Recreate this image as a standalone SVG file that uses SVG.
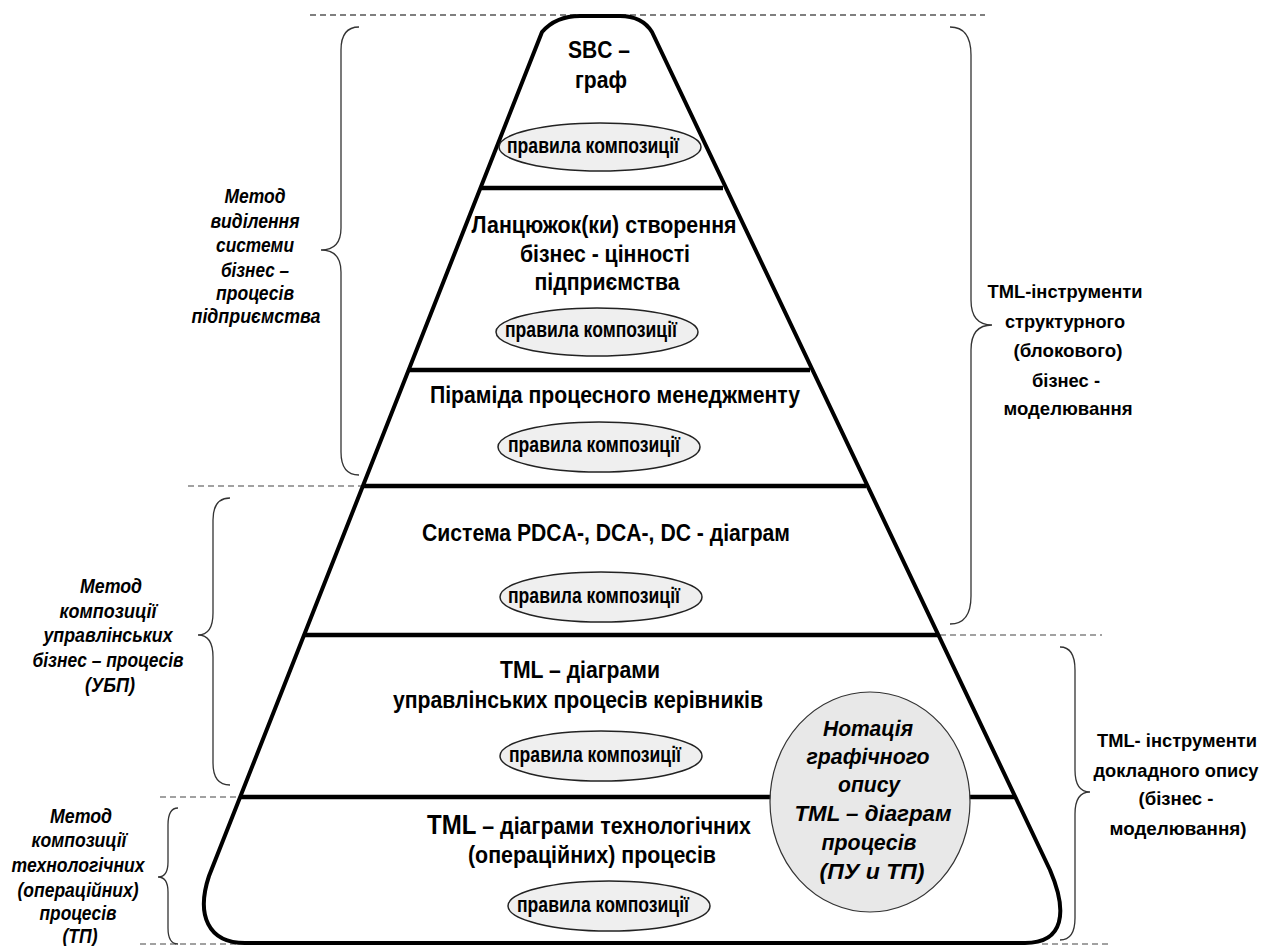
<svg xmlns="http://www.w3.org/2000/svg" width="1264" height="946" viewBox="0 0 1264 946">
<style>
.bg{fill:#fff}
.outline{fill:#fff;stroke:#000;stroke-width:4;stroke-linejoin:round}
.tier{stroke:#000;stroke-width:4.5;fill:none}
.rule{fill:#efefef;stroke:#222;stroke-width:1.5}
.rt{font-family:"Liberation Sans",Arial,sans-serif;font-weight:bold;font-size:22px;fill:#000;text-anchor:middle}
.tt{font-family:"Liberation Sans",Arial,sans-serif;font-weight:bold;font-size:24px;fill:#000;text-anchor:middle}
.lt{font-family:"Liberation Sans",Arial,sans-serif;font-weight:bold;font-style:italic;font-size:21px;fill:#000;text-anchor:middle}
.ct{font-family:"Liberation Sans",Arial,sans-serif;font-weight:bold;font-style:italic;font-size:22px;fill:#000;text-anchor:middle}
.gt{font-family:"Liberation Sans",Arial,sans-serif;font-weight:bold;font-size:19px;fill:#000;text-anchor:middle}
.brace{fill:none;stroke:#333;stroke-width:1.3}
.dash{fill:none;stroke:#444;stroke-width:1.1;stroke-dasharray:6 4}
.dashk{fill:none;stroke:#000;stroke-width:1.1;stroke-dasharray:6 4}
</style>
<rect class="bg" x="0" y="0" width="1264" height="946"/>

<g id="guides">
<path class="dashk" d="M310,15 H985"/>
<path class="dash" d="M188,486 H363"/>
<path class="dash" d="M940,635 H1102"/>
<path class="dash" d="M160,797 H241"/>
<path class="dash" d="M140,944 H240"/>
<path class="dash" d="M1042,944 H1110"/>
</g>

<g id="pyramid">
<path class="outline" d="M542,32 Q556,16 580,16 L620,16 Q642,16 652,32 L1050,870 C1068,912 1064,943 1025,943 L245,943 C208,943 196,915 209,876 Z"/>
<path class="tier" d="M480,188 H723"/>
<path class="tier" d="M408,370 H810"/>
<path class="tier" d="M363,486 H866"/>
<path class="tier" d="M304,635 H938"/>
<path class="tier" d="M241,797 H772 M968,797 H1015"/>
</g>

<g id="tier-sbc">
<text class="tt" x="599" y="58" textLength="62" lengthAdjust="spacingAndGlyphs">SBC –</text>
<text class="tt" x="601" y="88" textLength="52" lengthAdjust="spacingAndGlyphs">граф</text>
<ellipse class="rule" cx="600" cy="147" rx="101" ry="24"/>
<text class="rt" x="593" y="153" textLength="172" lengthAdjust="spacingAndGlyphs">правила композиції</text>
</g>

<g id="tier-chain">
<text class="tt" x="604" y="233" textLength="265" lengthAdjust="spacingAndGlyphs">Ланцюжок(ки) створення</text>
<text class="tt" x="605" y="262" textLength="170" lengthAdjust="spacingAndGlyphs">бізнес - цінності</text>
<text class="tt" x="607" y="290" textLength="145" lengthAdjust="spacingAndGlyphs">підприємства</text>
<ellipse class="rule" cx="597" cy="332" rx="101" ry="24"/>
<text class="rt" x="591" y="337" textLength="172" lengthAdjust="spacingAndGlyphs">правила композиції</text>
</g>

<g id="tier-pyramid">
<text class="tt" x="615" y="403" textLength="370" lengthAdjust="spacingAndGlyphs">Піраміда процесного менеджменту</text>
<ellipse class="rule" cx="599" cy="447" rx="101" ry="25"/>
<text class="rt" x="594" y="452" textLength="172" lengthAdjust="spacingAndGlyphs">правила композиції</text>
</g>

<g id="tier-pdca">
<text class="tt" x="606" y="541" textLength="368" lengthAdjust="spacingAndGlyphs">Система PDCA-, DCA-, DC - діаграм</text>
<ellipse class="rule" cx="601" cy="597" rx="101" ry="25"/>
<text class="rt" x="594" y="603" textLength="172" lengthAdjust="spacingAndGlyphs">правила композиції</text>
</g>

<g id="tier-management">
<text class="tt" x="580" y="678" textLength="160" lengthAdjust="spacingAndGlyphs">TML – діаграми</text>
<text class="tt" x="578" y="708" textLength="370" lengthAdjust="spacingAndGlyphs">управлінських процесів керівників</text>
<ellipse class="rule" cx="601" cy="756" rx="101" ry="25"/>
<text class="rt" x="595" y="762" textLength="172" lengthAdjust="spacingAndGlyphs">правила композиції</text>
</g>

<g id="tier-technology">
<text class="tt" x="589" y="834" textLength="324" lengthAdjust="spacingAndGlyphs"><tspan font-size="27">TML</tspan> – діаграми технологічних</text>
<text class="tt" x="592" y="863" textLength="248" lengthAdjust="spacingAndGlyphs">(операційних) процесів</text>
<ellipse class="rule" cx="609" cy="906" rx="101" ry="25"/>
<text class="rt" x="603" y="912" textLength="172" lengthAdjust="spacingAndGlyphs">правила композиції</text>
</g>

<g id="notation">
<ellipse class="rule" cx="870" cy="802" rx="100" ry="110" style="fill:#e8e8e8;stroke:#333;stroke-width:1.2"/>
<text class="ct" x="868" y="736" textLength="90" lengthAdjust="spacingAndGlyphs">Нотація</text>
<text class="ct" x="868" y="764" textLength="123" lengthAdjust="spacingAndGlyphs">графічного</text>
<text class="ct" x="869" y="792" textLength="62" lengthAdjust="spacingAndGlyphs">опису</text>
<text class="ct" x="873" y="821" textLength="157" lengthAdjust="spacingAndGlyphs">TML – діаграм</text>
<text class="ct" x="869" y="850" textLength="95" lengthAdjust="spacingAndGlyphs">процесів</text>
<text class="ct" x="872" y="879" textLength="105" lengthAdjust="spacingAndGlyphs">(ПУ и ТП)</text>
</g>

<g id="label-method-selection">
<text class="lt" x="255" y="203" textLength="61" lengthAdjust="spacingAndGlyphs">Метод</text>
<text class="lt" x="255" y="228" textLength="89" lengthAdjust="spacingAndGlyphs">виділення</text>
<text class="lt" x="255" y="252" textLength="78" lengthAdjust="spacingAndGlyphs">системи</text>
<text class="lt" x="255" y="277" textLength="68" lengthAdjust="spacingAndGlyphs">бізнес –</text>
<text class="lt" x="255" y="300" textLength="78" lengthAdjust="spacingAndGlyphs">процесів</text>
<text class="lt" x="256" y="323" textLength="129" lengthAdjust="spacingAndGlyphs">підприємства</text>
</g>

<g id="label-method-management">
<text class="lt" x="111" y="593" textLength="62" lengthAdjust="spacingAndGlyphs">Метод</text>
<text class="lt" x="108" y="618" textLength="97" lengthAdjust="spacingAndGlyphs">композиції</text>
<text class="lt" x="108" y="642" textLength="129" lengthAdjust="spacingAndGlyphs">управлінських</text>
<text class="lt" x="108" y="667" textLength="151" lengthAdjust="spacingAndGlyphs">бізнес – процесів</text>
<text class="lt" x="110" y="692" textLength="50" lengthAdjust="spacingAndGlyphs">(УБП)</text>
</g>

<g id="label-method-technology">
<text class="lt" x="81" y="823" textLength="62" lengthAdjust="spacingAndGlyphs">Метод</text>
<text class="lt" x="79" y="847" textLength="95" lengthAdjust="spacingAndGlyphs">композиції</text>
<text class="lt" x="78" y="872" textLength="133" lengthAdjust="spacingAndGlyphs">технологічних</text>
<text class="lt" x="78" y="897" textLength="121" lengthAdjust="spacingAndGlyphs">(операційних)</text>
<text class="lt" x="78" y="920" textLength="77" lengthAdjust="spacingAndGlyphs">процесів</text>
<text class="lt" x="80" y="943" textLength="35" lengthAdjust="spacingAndGlyphs">(ТП)</text>
</g>

<g id="label-structural-tools">
<text class="gt" x="1065" y="298" textLength="155" lengthAdjust="spacingAndGlyphs">TML-інструменти</text>
<text class="gt" x="1065" y="328" textLength="120" lengthAdjust="spacingAndGlyphs">структурного</text>
<text class="gt" x="1068" y="357" textLength="109" lengthAdjust="spacingAndGlyphs">(блокового)</text>
<text class="gt" x="1066" y="387" textLength="68" lengthAdjust="spacingAndGlyphs">бізнес -</text>
<text class="gt" x="1068" y="415" textLength="129" lengthAdjust="spacingAndGlyphs">моделювання</text>
</g>

<g id="label-detailed-tools">
<text class="gt" x="1177" y="747" textLength="160" lengthAdjust="spacingAndGlyphs">TML- інструменти</text>
<text class="gt" x="1176" y="777" textLength="165" lengthAdjust="spacingAndGlyphs">докладного опису</text>
<text class="gt" x="1176" y="805" textLength="75" lengthAdjust="spacingAndGlyphs">(бізнес -</text>
<text class="gt" x="1178" y="835" textLength="137" lengthAdjust="spacingAndGlyphs">моделювання)</text>
</g>

<g id="connectors">
<path class="brace" d="M359,27 Q341,27 341,50 L341,228 Q341,250 321,250 Q341,250 341,272 L341,452 Q341,475 359,475"/>
<path class="brace" d="M230,498 Q213,498 213,520 L213,613 Q213,635 198,635 Q213,635 213,657 L213,763 Q213,785 230,785"/>
<path class="brace" d="M178,808 Q168,808 168,825 L168,862 Q168,877 158,877 Q168,877 168,892 L168,928 Q168,944 178,944"/>
<path class="brace" d="M950,27 Q971,27 971,55 L971,300 Q971,325 992,325 Q971,325 971,350 L971,596 Q971,624 950,624"/>
<path class="brace" d="M1060,647 Q1075,647 1075,670 L1075,770 Q1075,792 1090,792 Q1075,792 1075,814 L1075,918 Q1075,940 1060,940"/>
</g>
</svg>
